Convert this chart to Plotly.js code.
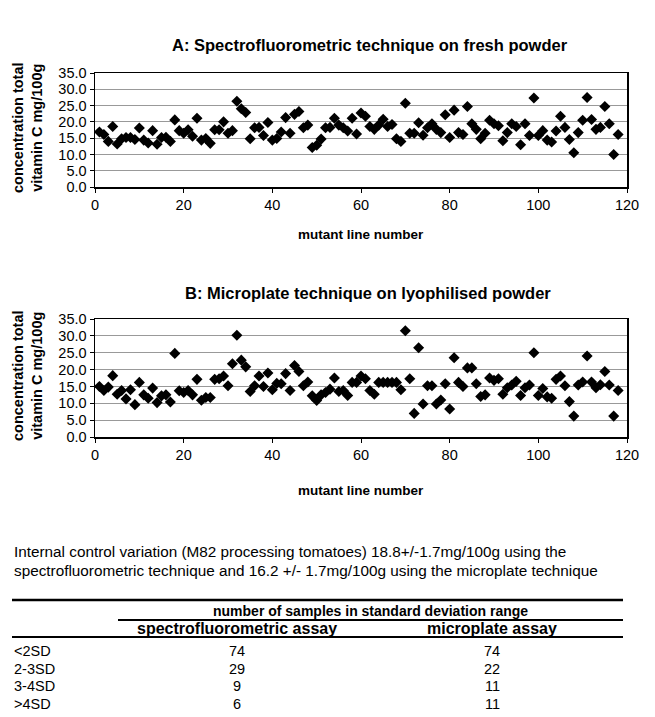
<!DOCTYPE html>
<html>
<head>
<meta charset="utf-8">
<script src="https://cdn.plot.ly/plotly-3.0.1.min.js"></script>
<style>
  html, body { margin: 0; padding: 0; background: #fff; }
  #chart { width: 655px; height: 717px; }
</style>
</head>
<body>
<div id="chart"></div>
<script>
// ---------- DATA ----------
const lineNumbers = [
  1,2,3,4,5,6,7,8,9,10,11,12,13,14,15,16,17,18,19,20,
  21,22,23,24,25,26,27,28,29,30,31,32,33,34,35,36,37,38,39,40,
  41,42,43,44,45,46,47,48,49,50,51,52,53,54,55,56,57,58,59,60,
  61,62,63,64,65,66,67,68,69,70,71,72,73,74,75,76,77,78,79,80,
  81,82,83,84,85,86,87,88,89,90,91,92,93,94,95,96,97,98,99,100,
  101,102,103,104,105,106,107,108,109,110,111,112,113,114,115,116,117,118
];

// A: Spectrofluorometric technique on fresh powder (mg/100g)
const spectroValues = [
  16.9,16.1,14.0,18.6,13.2,14.8,15.2,15.2,14.6,18.1,
  14.4,13.5,17.3,13.1,15.2,15.3,14.0,20.6,17.3,16.5,
  17.6,15.6,21.1,14.4,14.9,13.4,17.6,17.6,20.0,16.5,
  17.3,26.3,24.0,22.9,14.8,18.2,18.3,15.8,19.8,14.4,
  14.9,16.9,21.3,16.5,22.3,23.2,18.2,19.0,12.1,12.8,
  14.7,18.2,18.3,21.1,19.0,18.2,17.2,21.1,16.3,22.7,
  21.7,18.6,17.7,19.0,20.8,18.6,19.2,14.8,14.0,25.7,
  16.5,16.5,19.7,15.9,18.2,19.4,17.7,16.7,22.2,15.2,
  23.6,16.7,16.1,24.7,19.4,17.7,14.8,16.5,20.5,19.4,
  18.8,14.2,16.7,19.4,18.6,13.0,19.4,15.8,27.3,15.8,
  17.3,14.4,13.8,17.2,21.7,18.3,14.6,10.5,16.7,20.5,
  27.5,20.7,17.7,18.3,24.7,19.4,10.0,16.1
];

// B: Microplate technique on lyophilised powder (mg/100g)
const microValues = [
  15.0,13.8,14.8,18.2,12.7,13.8,11.3,14.0,9.6,16.2,
  12.5,11.5,14.5,10.2,12.2,12.5,10.4,24.8,13.7,13.2,
  13.8,12.5,17.1,10.9,11.7,11.7,17.1,17.3,18.1,15.2,
  21.7,30.2,22.8,20.8,13.5,15.2,18.1,15.0,19.0,14.0,
  15.9,15.8,18.8,13.8,21.2,19.4,15.2,16.3,12.2,10.8,
  12.5,13.2,14.2,17.5,13.5,13.8,12.3,16.2,16.2,18.1,
  17.3,13.8,12.7,16.2,16.2,16.2,16.2,16.2,14.0,31.5,
  17.3,7.0,26.5,9.8,15.2,15.2,9.8,11.0,15.8,8.3,
  23.5,16.2,15.0,20.5,20.5,15.8,12.0,12.5,17.5,16.8,
  17.3,12.7,14.6,15.4,16.5,12.3,14.6,15.4,25.0,12.3,
  14.4,11.9,11.5,17.1,18.1,15.2,10.5,6.2,15.4,16.3,
  24.0,16.3,14.6,15.5,19.4,15.4,6.2,13.8
];

const xTicks = [0, 20, 40, 60, 80, 100, 120];
const yTicks = [0, 5, 10, 15, 20, 25, 30, 35];

const titleA = "A: Spectrofluorometric technique on fresh powder";
const titleB = "B: Microplate technique on lyophilised powder";
const xTitle = "mutant line number";
const yTitle = "concentration total<br>vitamin C mg/100g";

const noteLines = [
  "Internal control variation (M82 processing tomatoes) 18.8+/-1.7mg/100g using the",
  "spectrofluorometric technique and 16.2 +/- 1.7mg/100g using the microplate technique"
];

const tableHeader = "number of samples in standard deviation range";
const tableColumns = ["spectrofluorometric assay", "microplate assay"];
const sdRanges = ["<2SD", "2-3SD", "3-4SD", ">4SD"];
const spectroCounts = [74, 29, 9, 6];
const microCounts = [74, 22, 11, 11];

// ---------- LAYOUT HELPERS ----------
const W = 655, H = 717;
const px = x => x / W;
const py = y => 1 - y / H;

const FONT = "Liberation Sans, Arial, sans-serif";

// plot boxes (pixels)
const plotL = 95, plotR = 627;
const topA = 73, botA = 187;
const topB = 319, botB = 437;

const marker = { symbol: "diamond", size: 8.5, color: "#000", line: { width: 0 } };

const traces = [
  { x: lineNumbers, y: spectroValues, type: "scatter", mode: "markers",
    marker: marker, xaxis: "x", yaxis: "y", hoverinfo: "x+y" },
  { x: lineNumbers, y: microValues, type: "scatter", mode: "markers",
    marker: marker, xaxis: "x2", yaxis: "y2", hoverinfo: "x+y" }
];

function xaxisDef(anchor) {
  return {
    domain: [px(plotL), px(plotR)], anchor: anchor,
    range: [0, 120], tickvals: xTicks, ticktext: xTicks.map(String),
    showgrid: false, zeroline: false,
    showline: true, linecolor: "#000", linewidth: 1.5, mirror: true,
    ticks: "outside", ticklen: 4, tickcolor: "#000", tickwidth: 1,
    tickfont: { family: FONT, size: 14.5, color: "#000" },
    automargin: false, fixedrange: true
  };
}
function yaxisDef(anchor, top, bot) {
  return {
    domain: [py(bot), py(top)], anchor: anchor,
    range: [0, 35], tickvals: yTicks, ticktext: yTicks.map(v => v.toFixed(1)),
    showgrid: true, gridcolor: "#999", gridwidth: 1, zeroline: false,
    showline: true, linecolor: "#000", linewidth: 1.5, mirror: true,
    ticks: "outside", ticklen: 4, tickcolor: "#000", tickwidth: 1,
    tickfont: { family: FONT, size: 14.5, color: "#000" },
    automargin: false, fixedrange: true
  };
}

const ann = [];
function text(t, x, y, size, opts) {
  ann.push(Object.assign({
    text: t, x: px(x), y: py(y), xref: "paper", yref: "paper",
    showarrow: false, xanchor: "center", yanchor: "middle",
    font: { family: FONT, size: size, color: "#000" }
  }, opts || {}));
}

// chart titles
text("<b>" + titleA + "</b>", 370, 45, 16.5);
text("<b>" + titleB + "</b>", 368, 293, 16.5);
// axis titles
text("<b>" + xTitle + "</b>", 361, 234, 13.5);
text("<b>" + xTitle + "</b>", 361, 491, 13.5);
text("<b>" + yTitle + "</b>", 27, 128, 14.5, { textangle: -90 });
text("<b>" + yTitle + "</b>", 27, 376, 14.5, { textangle: -90 });

// note
text(noteLines[0], 12, 551, 15.3, { xanchor: "left" });
text(noteLines[1], 12, 570, 15.3, { xanchor: "left" });

// table
const colX = [237, 492];
text("<b>" + tableHeader + "</b>", 370, 611, 14);
text("<b>" + tableColumns[0] + "</b>", colX[0], 628, 16);
text("<b>" + tableColumns[1] + "</b>", colX[1], 628, 16);
const rowY = [651, 669, 686, 704];
sdRanges.forEach((r, i) => {
  text(r, 12, rowY[i], 14.5, { xanchor: "left" });
  text(String(spectroCounts[i]), colX[0], rowY[i], 14.5);
  text(String(microCounts[i]), colX[1], rowY[i], 14.5);
});

const shapes = [
  { type: "line", xref: "paper", yref: "paper", x0: px(12), x1: px(623), y0: py(600), y1: py(600), line: { color: "#000", width: 2.5 } },
  { type: "line", xref: "paper", yref: "paper", x0: px(118), x1: px(623), y0: py(620), y1: py(620), line: { color: "#000", width: 2 } },
  { type: "line", xref: "paper", yref: "paper", x0: px(12), x1: px(623), y0: py(637), y1: py(637), line: { color: "#000", width: 2 } }
];

const layout = {
  width: W, height: H,
  margin: { l: 0, r: 0, t: 0, b: 0, pad: 0 },
  paper_bgcolor: "#fff", plot_bgcolor: "#fff",
  showlegend: false,
  xaxis: xaxisDef("y"),
  yaxis: yaxisDef("x", topA, botA),
  xaxis2: xaxisDef("y2"),
  yaxis2: yaxisDef("x2", topB, botB),
  annotations: ann,
  shapes: shapes,
  font: { family: FONT, color: "#000" }
};

Plotly.newPlot("chart", traces, layout, { displayModeBar: false, staticPlot: true });
</script>
</body>
</html>
